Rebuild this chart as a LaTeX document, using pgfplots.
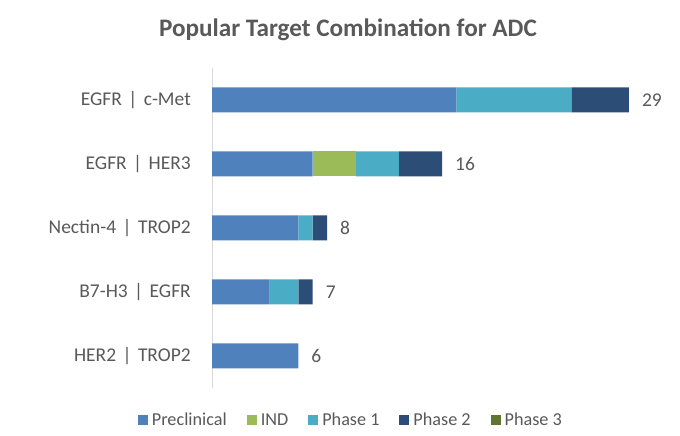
\documentclass[border=0pt]{standalone}
\usepackage{pgfplots}
\pgfplotsset{compat=1.18}
\usepackage{fontspec}
\setmainfont{Carlito}
\definecolor{txt}{HTML}{595959}
\definecolor{cPre}{HTML}{4F81BD}
\definecolor{cIND}{HTML}{9BBB59}
\definecolor{cP1}{HTML}{4BACC6}
\definecolor{cP2}{HTML}{2C4D75}
\definecolor{cP3}{HTML}{5F7530}
\definecolor{axl}{HTML}{D9D9D9}
\newcommand{\sep}{\hspace{0.33em}|\hspace{0.33em}}
\pgfplotsset{geom/.style={
  at={(212pt,48pt)}, anchor=south west,
  scale only axis, width=460pt, height=320pt,
  xmin=0, xmax=32, ymin=-0.5, ymax=4.5, bar width=25pt}}
\begin{document}
\begin{tikzpicture}
\useasboundingbox (0,0) rectangle (680pt,436pt);
\node[anchor=base, text=txt, font=\fontsize{25.2}{28}\selectfont\bfseries, inner sep=0pt] at (348pt,399pt) {Popular Target Combination for ADC};
\begin{axis}[
  geom,
  xbar stacked,
  axis x line=none,
  axis y line*=left,
  y axis line style={draw=axl, line width=1pt},
  ytick={0,1,2,3,4},
  yticklabels={HER2\sep TROP2, B7-H3\sep EGFR, Nectin-4\sep TROP2, EGFR\sep HER3, EGFR\sep c-Met},
  major tick length=0pt,
  yticklabel style={text=txt, font=\fontsize{19.5}{22}\selectfont, inner sep=0pt, xshift=-21pt},
  legend columns=5,
  legend style={draw=none, at={(0.302,-0.1)}, anchor=center, text=txt,
    font=\fontsize{18.2}{20}\selectfont,
    /tikz/every even column/.append style={column sep=18pt}},
  legend image code/.code={\path[#1,draw=none] (0pt,-5pt) rectangle (10pt,5pt); \path (0pt,0pt) -- (12pt,0pt);},
]
\addplot[fill=cPre, draw=none] coordinates {(17,4) (7,3) (6,2) (4,1) (6,0)};
\addlegendentry{Preclinical}
\addplot[fill=cIND, draw=none] coordinates {(0,4) (3,3) (0,2) (0,1) (0,0)};
\addlegendentry{IND}
\addplot[fill=cP1, draw=none] coordinates {(8,4) (3,3) (1,2) (2,1) (0,0)};
\addlegendentry{Phase 1}
\addplot[fill=cP2, draw=none] coordinates {(4,4) (3,3) (1,2) (1,1) (0,0)};
\addlegendentry{Phase 2}
\addplot[fill=cP3, draw=none] coordinates {(0,4) (0,3) (0,2) (0,1) (0,0)};
\addlegendentry{Phase 3}
\end{axis}
\begin{axis}[
  geom, hide axis, xbar, clip=false,
  nodes near coords={\pgfmathprintnumber[assume math mode=true]{\pgfplotspointmeta}},
  point meta=x,
  nodes near coords style={anchor=west, text=txt, font=\fontsize{19.5}{22}\selectfont, inner sep=0pt, xshift=13pt},
]
\addplot[draw=none, fill=none] coordinates {(29,4) (16,3) (8,2) (7,1) (6,0)};
\end{axis}
\end{tikzpicture}
\end{document}
